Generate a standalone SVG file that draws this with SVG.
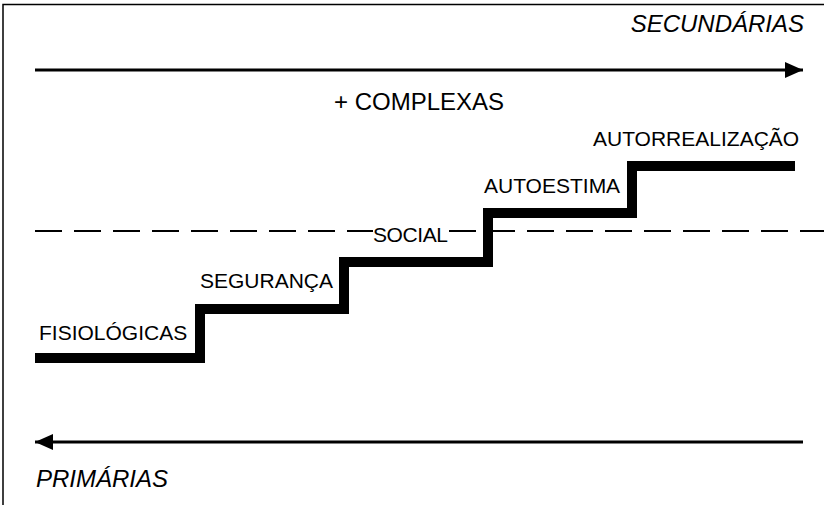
<svg xmlns="http://www.w3.org/2000/svg" width="824" height="505" viewBox="0 0 824 505">
  <style>
    .lbl { font-family: "Liberation Sans", Arial, sans-serif; font-size: 21px; fill: #000; }
    .big { font-family: "Liberation Sans", Arial, sans-serif; font-size: 24px; fill: #000; }
    .it { font-style: italic; }
    .arrow { stroke: #000; stroke-width: 3; fill: none; }
    .dash { stroke: #000; stroke-width: 2; stroke-dasharray: 27 12; fill: none; }
    .stairs { stroke: #000; stroke-width: 10; fill: none; stroke-linejoin: miter; stroke-linecap: butt; }
  </style>
  <defs>
    <marker id="head" markerUnits="userSpaceOnUse" markerWidth="18" markerHeight="16" refX="18" refY="8" orient="auto">
      <path d="M0,0 L18,8 L0,16 Z" fill="#000"/>
    </marker>
  </defs>
  <rect width="824" height="505" fill="#fff"/>
  <g id="frame">
    <path d="M3,505 V4.5 H824" stroke="#000" stroke-width="1.5" fill="none"/>
  </g>
  <g id="connectors">
    <line class="arrow" x1="35" y1="70" x2="803" y2="70" marker-end="url(#head)"/>
    <line class="arrow" x1="803" y1="442" x2="35" y2="442" marker-end="url(#head)"/>
    <line class="dash" x1="35" y1="231" x2="373" y2="231"/>
    <line class="dash" x1="449" y1="231" x2="824" y2="231"/>
    <path id="stairs" class="stairs" d="M35,358 H200 V309 H344 V262 H488 V213 H632 V166 H795"/>
  </g>
  <g id="secundarias"><text class="big it" x="804" y="32" text-anchor="end">SECUNDÁRIAS</text></g>
  <g id="complexas"><text class="big" x="334" y="110">+ COMPLEXAS</text></g>
  <g id="primarias"><text class="big it" x="36" y="487">PRIMÁRIAS</text></g>
  <g id="fisiologicas"><text class="lbl" x="39" y="340">FISIOLÓGICAS</text></g>
  <g id="seguranca"><text class="lbl" x="200" y="288">SEGURANÇA</text></g>
  <g id="social"><text class="lbl" x="373" y="242" textLength="75">SOCIAL</text></g>
  <g id="autoestima"><text class="lbl" x="484" y="193">AUTOESTIMA</text></g>
  <g id="autorrealizacao"><text class="lbl" x="593" y="146">AUTORREALIZAÇÃO</text></g>
</svg>
